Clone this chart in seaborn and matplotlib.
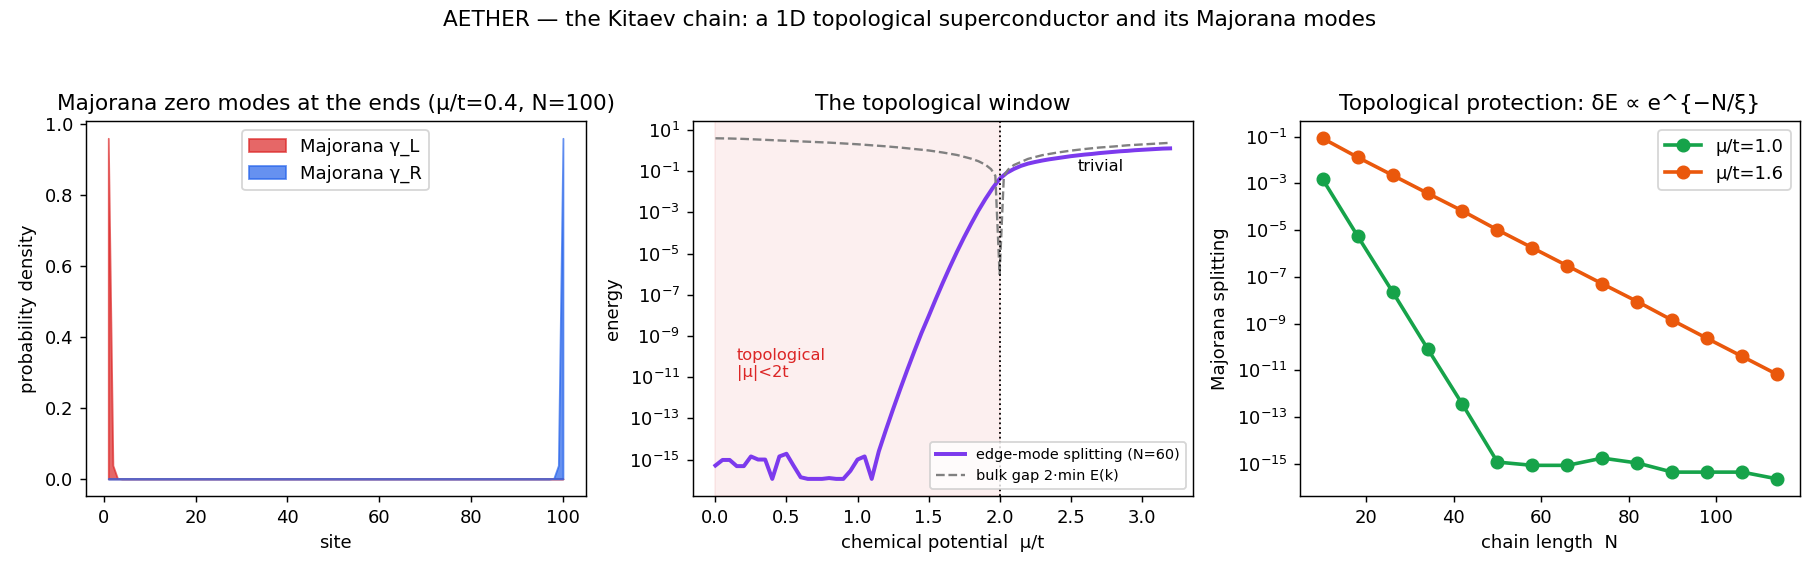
import numpy as np
import matplotlib
matplotlib.use("Agg")
import matplotlib.pyplot as plt
import seaborn as sns

# ---------------------------
# data
# ---------------------------
# left: Majorana wavefunctions, mu/t=0.4, N=100
site = list(range(1, 101))
gamma_L = [0.96, 0.038, 0.0015] + [0.0] * 97
gamma_R = [0.0] * 97 + [0.0015, 0.038, 0.96]

# middle: edge-mode splitting (N=60), log10 of energy, mu/t step 0.05
mu_edge = [round(0.05 * i, 2) for i in range(65)]
log_edge = [
    -15.29, -15.02, -15.02, -15.32, -15.32, -14.85, -15.00, -15.00, -15.94, -14.85,
    -14.72, -15.30, -15.86, -15.94, -15.94, -15.94, -15.90, -15.94, -15.94, -15.55,
    -15.00, -14.85, -15.94, -14.60, -13.56, -12.56, -11.59, -10.65, -9.74, -8.86,
    -8.05, -7.22, -6.42, -5.65, -4.91, -4.21, -3.55, -2.92, -2.35, -1.83,
    -1.37, -1.08, -0.89, -0.74, -0.63, -0.55, -0.48, -0.42, -0.37, -0.32,
    -0.27, -0.23, -0.19, -0.16, -0.12, -0.09, -0.06, -0.03, -0.01, 0.02,
    0.04, 0.06, 0.08, 0.10, 0.11,
]
# bulk gap 2*min E(k)
mu_bulk = [0.0, 0.1, 0.2, 0.3, 0.4, 0.5, 0.6, 0.7, 0.8, 0.9, 1.0, 1.1, 1.2, 1.3,
           1.4, 1.5, 1.6, 1.7, 1.8, 1.85, 1.9, 1.94, 1.97, 2.0, 2.03, 2.06, 2.1,
           2.2, 2.3, 2.4, 2.5, 2.6, 2.7, 2.8, 2.9, 3.0, 3.1, 3.2]
log_bulk = [0.60, 0.59, 0.57, 0.54, 0.51, 0.48, 0.45, 0.42, 0.39, 0.35, 0.31,
            0.26, 0.21, 0.15, 0.08, 0.01, -0.09, -0.21, -0.39, -0.51, -0.68,
            -0.90, -1.22, -6.0, -1.22, -0.92, -0.70, -0.40, -0.22, -0.10, 0.0,
            0.08, 0.15, 0.20, 0.26, 0.30, 0.34, 0.38]

# right: splitting vs chain length
chain_N = [10, 18, 26, 34, 42, 50, 58, 66, 74, 82, 90, 98, 106, 114]
log_split_10 = [-2.82, -5.25, -7.64, -10.07, -12.46, -14.93, -15.07, -15.07,
                -14.76, -14.97, -15.36, -15.36, -15.36, -15.65]
log_split_16 = [-1.07, -1.88, -2.65, -3.42, -4.18, -4.99, -5.76, -6.53, -7.30,
                -8.06, -8.86, -9.64, -10.41, -11.18]

RED = "#dc2626"
BLUE = "#2563eb"
PURPLE = "#7c3aed"
GREEN = "#16a34a"
ORANGE = "#ea580c"

fig, axes = plt.subplots(1, 3, figsize=(14, 4.4), dpi=130)
fig.subplots_adjust(left=0.047, right=0.989, bottom=0.133, top=0.788, wspace=0.214)

# ---------------------------
# 1. Majorana modes
# ---------------------------
ax = axes[0]
ax.fill_between(site, gamma_L, color=RED, alpha=0.7, label="Majorana γ_L")
ax.fill_between(site, gamma_R, color=BLUE, alpha=0.7, label="Majorana γ_R")
ax.set_title("Majorana zero modes at the ends (μ/t=0.4, N=100)")
ax.set_xlabel("site")
ax.set_ylabel("probability density")
ax.legend(loc="upper center")

# ---------------------------
# 2. topological window
# ---------------------------
ax = axes[1]
ax.axvspan(0, 2, color=RED, alpha=0.07)
sns.lineplot(x=mu_edge, y=np.power(10.0, log_edge), ax=ax, color=PURPLE, lw=2.2,
             label="edge-mode splitting (N=60)")
sns.lineplot(x=mu_bulk, y=np.power(10.0, log_bulk), ax=ax, color="gray", lw=1.3,
             ls="--", label="bulk gap 2·min E(k)")
ax.axvline(2, color="k", ls=":", lw=1)
ax.set_yscale("log")
ax.text(0.15, 1e-11, "topological\n|μ|<2t", color=RED, fontsize=9)
ax.text(2.55, 1e-1, "trivial", fontsize=9)
ax.set_title("The topological window")
ax.set_xlabel("chemical potential  μ/t")
ax.set_ylabel("energy")
ax.legend(loc="lower right", fontsize=8)

# ---------------------------
# 3. exponential protection
# ---------------------------
ax = axes[2]
sns.lineplot(x=chain_N, y=np.power(10.0, log_split_10), ax=ax, color=GREEN, lw=2,
             marker="o", markersize=7, mec=GREEN, label="μ/t=1.0")
sns.lineplot(x=chain_N, y=np.power(10.0, log_split_16), ax=ax, color=ORANGE, lw=2,
             marker="o", markersize=7, mec=ORANGE, label="μ/t=1.6")
ax.set_yscale("log")
ax.set_title("Topological protection: δE ∝ e^{−N/ξ}")
ax.set_xlabel("chain length  N")
ax.set_ylabel("Majorana splitting")
ax.legend(loc="upper right")

fig.suptitle("AETHER — the Kitaev chain: a 1D topological superconductor and its Majorana modes",
             fontsize=12, y=0.983)

fig.savefig("out.png", dpi=130)
